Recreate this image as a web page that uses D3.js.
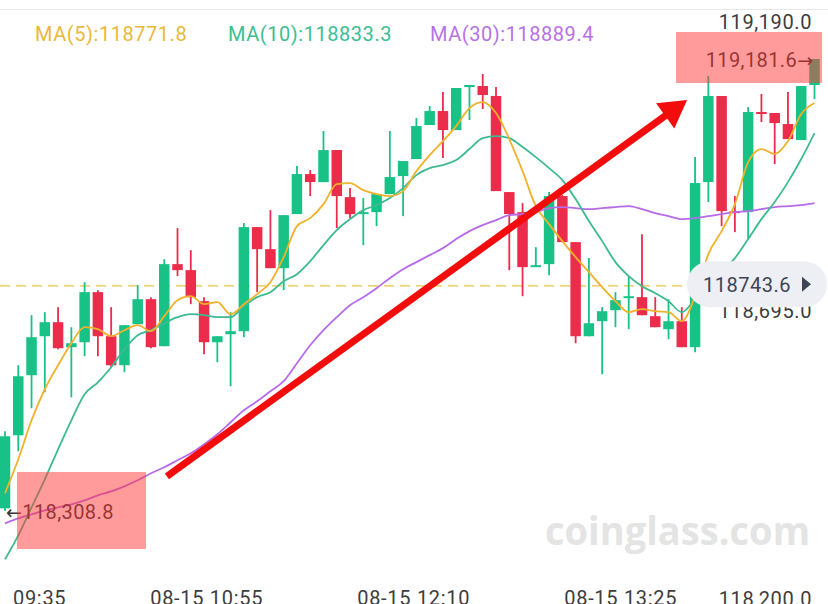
<!DOCTYPE html>
<html><head><meta charset="utf-8">
<script src="https://cdn.jsdelivr.net/npm/d3@7/dist/d3.min.js"></script>
<style>html,body{margin:0;padding:0;background:#fff;overflow:hidden}</style>
</head><body>
<svg id="chart" width="828" height="604"></svg>
<script>
// ---------- DATA ----------
const opens = [118314.0,118455.0,118571.0,118646.3,118673.4,118625.1,118634.7,118731.4,118646.3,118590.3,118669.5,118717.8,118627.0,118785.5,118773.9,118714.0,118634.7,118650.2,118656.0,118857.0,118814.4,118777.7,118882.1,118959.4,118943.9,119005.8,118914.9,118882.1,118885.9,118920.7,118955.5,118988.4,119054.1,119081.1,119044.4,119127.5,119129.4,119110.1,118924.6,118885.9,118779.7,118785.5,118916.9,118828.0,118646.3,118675.3,118696.6,118719.8,118721.7,118685.0,118659.9,118675.3,118625.1,118943.9,119110.1,118887.9,118885.9,119079.2,119077.3,119056.0,119025.1,119131.4];
const highs = [118462.7,118590.3,118686.9,118692.7,118702.4,118663.7,118750.7,118735.2,118702.4,118667.6,118744.9,118721.7,118795.1,118855.0,118812.5,118721.7,118646.3,118692.7,118864.7,118857.0,118889.8,118880.1,118974.8,118967.1,119042.5,119005.8,118932.3,118913.0,118920.7,119042.5,118984.5,119067.6,119090.8,119117.8,119125.6,119131.4,119152.6,119127.5,118924.6,118903.3,118818.3,118924.6,118918.8,118828.0,118797.1,118702.4,118731.4,118762.3,118843.4,118721.7,118717.8,118702.4,118992.2,119148.7,119110.1,118916.9,119088.8,119114.0,119077.3,119117.8,119129.4,119181.6];
const lows = [118308.8,118424.1,118507.2,118538.1,118621.2,118528.4,118607.7,118607.7,118586.4,118576.8,118669.5,118623.1,118627.0,118762.3,118708.2,118611.5,118596.1,118549.7,118644.4,118731.4,118777.7,118735.2,118882.1,118916.9,118943.9,118855.0,118874.3,118822.2,118858.9,118920.7,118878.2,118988.4,119054.1,118990.3,119044.4,119063.7,119085.0,118926.5,118773.9,118723.6,118779.7,118764.2,118828.0,118632.8,118646.3,118572.9,118663.7,118659.9,118686.9,118663.7,118640.5,118625.1,118615.4,118905.3,118858.9,118847.3,118833.8,119059.9,118978.7,119027.0,119025.1,119104.3];
const closes = [118453.1,118569.0,118644.4,118673.4,118623.1,118632.8,118731.4,118646.3,118590.3,118667.6,118717.8,118625.1,118785.5,118773.9,118721.7,118634.7,118646.3,118656.0,118857.0,118814.4,118777.7,118880.1,118959.4,118943.9,119005.8,118916.9,118882.1,118885.9,118920.7,118953.6,118984.5,119052.1,119081.1,119044.4,119125.6,119131.4,119112.0,118926.5,118882.1,118779.7,118783.5,118916.9,118828.0,118646.3,118671.4,118694.6,118715.9,118723.6,118686.9,118663.7,118675.3,118625.1,118942.0,119110.1,118887.9,118884.0,119079.2,119075.3,119057.9,119027.0,119129.4,119181.6];
const ma5 = [118342.9,118408.6,118484.0,118543.9,118590.3,118632.8,118663.7,118659.9,118646.3,118657.9,118667.6,118656.0,118685.0,118715.9,118723.6,118708.2,118712.0,118688.8,118708.2,118727.5,118750.7,118799.0,118858.9,118874.3,118901.4,118940.0,118942.0,118928.5,118920.7,118916.9,118926.5,118965.2,118996.1,119023.1,119052.1,119086.9,119098.5,119077.3,119027.0,118965.2,118897.5,118862.8,118829.9,118799.0,118770.0,118741.0,118714.0,118692.7,118698.5,118694.6,118692.7,118675.3,118723.6,118804.8,118849.2,118901.4,118982.6,119007.7,118998.0,119023.1,119075.3,119096.6];
const ma10 = [118215.4,118261.8,118315.9,118370.0,118428.0,118484.0,118534.2,118557.4,118586.4,118621.2,118648.3,118657.9,118671.4,118683.0,118688.8,118686.9,118683.0,118683.0,118704.3,118721.7,118731.4,118752.6,118766.1,118791.3,118822.2,118851.2,118872.4,118889.8,118899.5,118913.0,118932.3,118957.4,118971.0,118976.8,118986.4,119007.7,119028.9,119032.8,119028.9,119011.5,118992.2,118971.0,118947.8,118911.1,118868.6,118829.9,118789.3,118762.3,118743.0,118729.4,118714.0,118692.7,118717.8,118743.0,118770.0,118797.1,118833.8,118872.4,118905.3,118943.9,118988.4,119038.6];
const ma30 = [118285.0,118294.6,118302.4,118310.1,118315.9,118321.7,118329.4,118339.1,118346.8,118356.5,118368.1,118381.6,118393.2,118406.7,118420.2,118437.6,118456.9,118480.1,118503.3,118520.7,118540.0,118559.4,118594.1,118628.9,118657.9,118683.0,118706.2,118721.7,118739.1,118758.4,118775.8,118789.3,118802.8,118816.4,118833.8,118849.2,118860.8,118870.5,118880.1,118882.1,118885.9,118893.7,118895.6,118893.7,118891.7,118893.7,118895.6,118897.5,118891.7,118884.0,118878.2,118872.4,118874.3,118878.2,118882.1,118885.9,118887.9,118891.7,118895.6,118897.5,118899.5,118903.3];

const legendLabels = ["MA(5):118771.8", "MA(10):118833.3", "MA(30):118889.4"];
const yTickValues = [119190.0, 118695.0, 118200.0];
const timeTickLabels = ["09:35", "08-15 10:55", "08-15 12:10", "08-15 13:25"];
const timeTickIndex = [0.3, 15.2, 30.8, 46.4];
const lastPrice = 118743.6;
const maxPrice = 119181.6, maxIndex = 61;
const minPrice = 118308.8, minIndex = 0;

// ---------- LAYOUT ----------
const W = 828, H = 604;
const n = closes.length;
const candles = d3.range(n).map(i => ({i, o: opens[i], h: highs[i], l: lows[i], c: closes[i]}));
const x = d3.scaleLinear().domain([0, n - 1]).range([5, 814.5]);
const y = d3.scaleLinear().domain([minPrice, maxPrice]).range([511, 59]);
const yAxis = d3.scaleLinear().domain([118200, 119190]).range([606, 29]);
const fmt = d3.format(",.1f");
const GREEN = "#18c286", RED = "#ec2c4b";
const FONT = "Roboto, 'Noto Sans', sans-serif";
const ARROWFONT = "'DejaVu Sans', sans-serif";

const svg = d3.select("#chart");
svg.append("rect").attr("width", W).attr("height", H).attr("fill", "#fff");

// top separator
svg.append("line").attr("x1", 0).attr("x2", W).attr("y1", 9.5).attr("y2", 9.5)
  .attr("stroke", "#e6e6e6").attr("stroke-width", 1);

// watermark
svg.append("text").attr("x", 545).attr("y", 545).attr("textLength", 265)
  .attr("lengthAdjust", "spacingAndGlyphs")
  .attr("font-family", "'Open Sans', Lato, sans-serif").attr("font-weight", 700)
  .attr("font-size", 40).attr("fill", "#e4e4e4").text("coinglass.com");

// last price dashed line
svg.append("line").attr("x1", 0).attr("x2", W)
  .attr("y1", y(lastPrice)).attr("y2", y(lastPrice))
  .attr("stroke", "#e9c24a").attr("stroke-width", 1.4).attr("stroke-dasharray", "10,6");

// candles
const bw = 10.5;
const cg = svg.append("g");
cg.selectAll("line.wick").data(candles).join("line")
  .attr("x1", d => x(d.i)).attr("x2", d => x(d.i))
  .attr("y1", d => y(d.h)).attr("y2", d => y(d.l))
  .attr("stroke", d => d.c >= d.o ? GREEN : RED).attr("stroke-width", 1.8);
cg.selectAll("rect.body").data(candles).join("rect")
  .attr("x", d => x(d.i) - bw / 2).attr("width", bw)
  .attr("y", d => y(Math.max(d.o, d.c)))
  .attr("height", d => Math.max(1.6, Math.abs(y(d.o) - y(d.c))))
  .attr("fill", d => d.c >= d.o ? GREEN : RED);

// MA lines
const line = d3.line().x((d, i) => x(i)).y(d => y(d)).curve(d3.curveMonotoneX);
[[ma30, "#b86be8"], [ma10, "#3dba92"], [ma5, "#f0b22a"]].forEach(([s, col]) => {
  svg.append("path").datum(s).attr("d", line).attr("fill", "none")
    .attr("stroke", col).attr("stroke-width", 1.8);
});

// legend
const legendX = [35, 228, 430];
const legendCol = ["#ecb83a", "#3dbe95", "#b772e6"];
legendLabels.forEach((t, k) => {
  svg.append("text").attr("x", legendX[k]).attr("y", 41).attr("font-family", FONT)
    .attr("font-size", 20).attr("fill", legendCol[k]).attr("letter-spacing", 0.55).text(t);
});

// right axis labels
yTickValues.forEach(v => {
  svg.append("text").attr("x", 812).attr("y", yAxis(v)).attr("text-anchor", "end")
    .attr("font-family", FONT).attr("font-size", 20).attr("letter-spacing", 0.6)
    .attr("fill", "#3d3d3d").text(fmt(v));
});

// time labels
timeTickLabels.forEach((t, k) => {
  svg.append("text").attr("x", k === 0 ? x(timeTickIndex[k]) + 4 : x(timeTickIndex[k]))
    .attr("y", 605).attr("text-anchor", k === 0 ? "start" : "middle")
    .attr("font-family", FONT).attr("font-size", 20).attr("letter-spacing", 0.7)
    .attr("fill", "#3d3d3d").text(t);
});

// max / min markers
const mt = svg.append("text").attr("x", x(maxIndex) - 1).attr("y", y(maxPrice) + 8).attr("text-anchor", "end")
  .attr("font-family", FONT).attr("font-size", 20).attr("letter-spacing", 0.4).attr("fill", "#333");
mt.append("tspan").text(fmt(maxPrice));
mt.append("tspan").attr("font-family", ARROWFONT).attr("font-size", 19).text("→");
const lt = svg.append("text").attr("x", x(minIndex) + 1).attr("y", y(minPrice) + 8)
  .attr("font-family", FONT).attr("font-size", 20).attr("letter-spacing", 0.4).attr("fill", "#333");
lt.append("tspan").attr("font-family", ARROWFONT).attr("font-size", 19).text("←");
lt.append("tspan").text(fmt(minPrice));

// pink highlight boxes (overlay)
const PINK = "rgba(255,55,55,0.5)";
const hx = x(maxIndex), hy = y(maxPrice);
svg.append("rect").attr("x", hx - 138.5).attr("y", hy - 27).attr("width", 146).attr("height", 51).attr("fill", PINK);
const lx = x(minIndex), ly = y(minPrice);
svg.append("rect").attr("x", lx + 12).attr("y", ly - 39).attr("width", 129).attr("height", 77).attr("fill", PINK);

// red arrow annotation (data coordinates)
const arrowFrom = {i: 12.2, p: 118375.8}, arrowTo = {i: 51.4, p: 119102.4};
const ax0 = x(arrowFrom.i), ay0 = y(arrowFrom.p), ax1 = x(arrowTo.i), ay1 = y(arrowTo.p);
const len = Math.hypot(ax1 - ax0, ay1 - ay0), ux = (ax1 - ax0) / len, uy = (ay1 - ay0) / len;
const headL = 27, headW = 15.5;
const bx = ax1 - ux * headL, by = ay1 - uy * headL;
svg.append("line").attr("x1", ax0).attr("y1", ay0).attr("x2", bx + ux * 2).attr("y2", by + uy * 2)
  .attr("stroke", "#f20c0c").attr("stroke-width", 7);
svg.append("path").attr("d", `M${ax1},${ay1}L${bx - uy * headW},${by + ux * headW}L${bx + uy * headW},${by - ux * headW}Z`)
  .attr("fill", "#f20c0c");

// last price pill
const py = y(lastPrice) - 1.5;
svg.append("rect").attr("x", 687).attr("y", py - 23).attr("width", 140).attr("height", 46)
  .attr("rx", 23).attr("fill", "#edeff4");
svg.append("text").attr("x", 703).attr("y", py + 8).attr("font-family", FONT)
  .attr("font-size", 20).attr("letter-spacing", 0.5).attr("fill", "#3e4454").text(String(lastPrice));
svg.append("path").attr("d", `M802,${py - 7.5}L802,${py + 7.5}L811,${py}Z`).attr("fill", "#3e4454");
</script>
</body></html>
